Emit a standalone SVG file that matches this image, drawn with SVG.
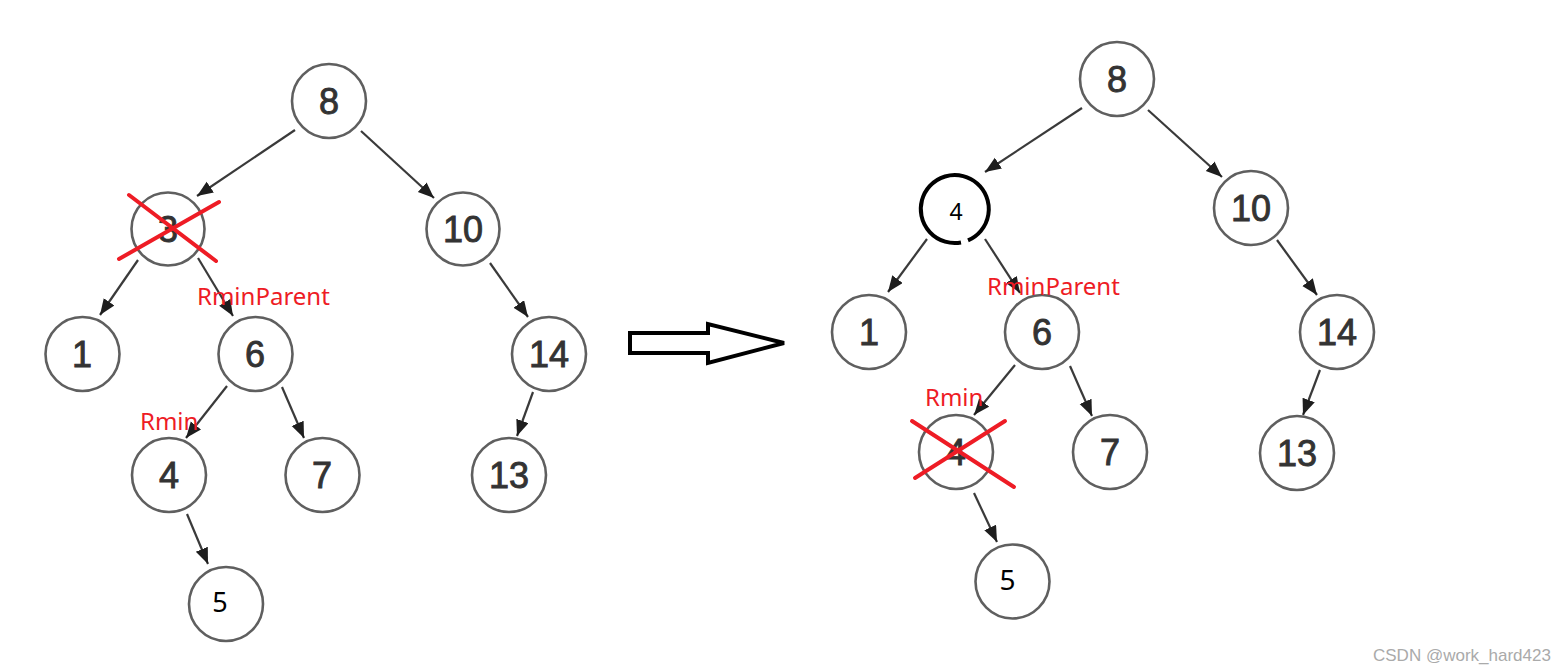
<svg xmlns="http://www.w3.org/2000/svg" width="1568" height="672" viewBox="0 0 1568 672">
<style>
.nd circle{fill:#fff;stroke:#5f5f5f;stroke-width:2.6}
.num{font-family:"Liberation Sans",Arial,sans-serif;font-size:36px;fill:#333;stroke:#333;stroke-width:0.9;text-anchor:middle}
.sm{font-family:"Noto Sans","DejaVu Sans",sans-serif;fill:#000;text-anchor:middle}
.lbl{font-family:"Noto Sans","DejaVu Sans",sans-serif;font-size:24px;fill:#ee1c25}
.e line{stroke:#3a3a3a;stroke-width:2.2;marker-end:url(#ah)}
.x line{stroke:#ee1c25;stroke-width:4;stroke-linecap:round}
</style>
<defs>
<marker id="ah" markerUnits="userSpaceOnUse" markerWidth="18" markerHeight="16" refX="16" refY="6.5" orient="auto">
<path d="M0,0 L16,6.5 L0,13 Z" fill="#1e1e1e"/>
</marker>
</defs>
<rect width="1568" height="672" fill="#fff"/>
<g id="connectors" class="e">
<line x1="295" y1="130" x2="197" y2="196"/>
<line x1="361" y1="131" x2="434" y2="198"/>
<line x1="138" y1="260" x2="100" y2="315"/>
<line x1="198" y1="258" x2="233" y2="316"/>
<line x1="490" y1="263" x2="528" y2="317"/>
<line x1="227" y1="386" x2="186" y2="438"/>
<line x1="282" y1="387" x2="304" y2="438"/>
<line x1="533" y1="392" x2="517" y2="436"/>
<line x1="187" y1="514" x2="208" y2="564"/>
<line x1="1082" y1="108" x2="985" y2="172"/>
<line x1="1148" y1="110" x2="1222" y2="177"/>
<line x1="927" y1="239" x2="888" y2="292"/>
<line x1="985" y1="239" x2="1020" y2="293"/>
<line x1="1277" y1="240" x2="1317" y2="295"/>
<line x1="1320" y1="370" x2="1303" y2="415"/>
<line x1="1015" y1="365" x2="974" y2="415"/>
<line x1="1070" y1="366" x2="1092" y2="416"/>
<line x1="974" y1="493" x2="997" y2="542"/>
</g>
<g id="L8" class="nd"><circle cx="329" cy="101" r="37"/><text class="num" x="329" y="114">8</text></g>
<g id="L3" class="nd"><circle cx="168" cy="229" r="36.5"/><text class="num" x="168" y="242">3</text></g>
<g id="L10" class="nd"><circle cx="463" cy="229" r="36.5"/><text class="num" x="463" y="242">10</text></g>
<g id="L1" class="nd"><circle cx="82.5" cy="354" r="37"/><text class="num" x="82" y="367">1</text></g>
<g id="L6" class="nd"><circle cx="255.5" cy="354" r="37"/><text class="num" x="255" y="367">6</text></g>
<g id="L14" class="nd"><circle cx="549" cy="354" r="37"/><text class="num" x="549" y="367">14</text></g>
<g id="L4" class="nd"><circle cx="169" cy="475" r="37"/><text class="num" x="169" y="488">4</text></g>
<g id="L7" class="nd"><circle cx="322.5" cy="475" r="37"/><text class="num" x="322" y="488">7</text></g>
<g id="L13" class="nd"><circle cx="509" cy="475" r="37"/><text class="num" x="509" y="488">13</text></g>
<g id="L5" class="nd"><circle cx="226" cy="604" r="37"/><text class="sm" x="220" y="612" font-size="27">5</text></g>
<g id="Lx" class="x"><line x1="129" y1="195" x2="216" y2="261"/><line x1="119" y1="259" x2="219" y2="202"/></g>
<text class="lbl" x="197" y="305">RminParent</text>
<text class="lbl" x="140" y="430">Rmin</text>
<g id="bigArrow"><path d="M630,333 L708,333 L708,324 L784,343 L708,363 L708,353 L630,353 Z" fill="#fff" stroke="#000" stroke-width="4" stroke-linejoin="miter"/></g>
<g id="R8" class="nd"><circle cx="1117" cy="79" r="37"/><text class="num" x="1117" y="92">8</text></g>
<g id="R4"><path d="M968,240.4 A34,34 0 1 0 961,242.5" fill="#fff" stroke="#000" stroke-width="4"/><text class="sm" x="956" y="220" font-size="23">4</text></g>
<g id="R10" class="nd"><circle cx="1251" cy="208" r="37"/><text class="num" x="1251" y="221">10</text></g>
<g id="R1" class="nd"><circle cx="869" cy="332" r="37"/><text class="num" x="869" y="345">1</text></g>
<g id="R6" class="nd"><circle cx="1042" cy="332" r="37"/><text class="num" x="1042" y="345">6</text></g>
<g id="R14" class="nd"><circle cx="1337" cy="332" r="37"/><text class="num" x="1337" y="345">14</text></g>
<g id="R4x" class="nd"><circle cx="956" cy="452" r="37"/><text class="num" x="956" y="465">4</text></g>
<g id="R7" class="nd"><circle cx="1110" cy="452" r="37"/><text class="num" x="1110" y="465">7</text></g>
<g id="R13" class="nd"><circle cx="1297" cy="453" r="37"/><text class="num" x="1297" y="466">13</text></g>
<g id="R5" class="nd"><circle cx="1012.5" cy="581.5" r="37"/><text class="sm" x="1007.5" y="590" font-size="28">5</text></g>
<g id="Rx" class="x"><line x1="912" y1="421" x2="1014" y2="487"/><line x1="915" y1="478" x2="1005" y2="421"/></g>
<text class="lbl" x="987" y="295">RminParent</text>
<text class="lbl" x="925" y="406">Rmin</text>
<text x="1373" y="661" font-family="Liberation Sans,Arial,sans-serif" font-size="17" fill="#aaa">CSDN @work_hard423</text>
</svg>
